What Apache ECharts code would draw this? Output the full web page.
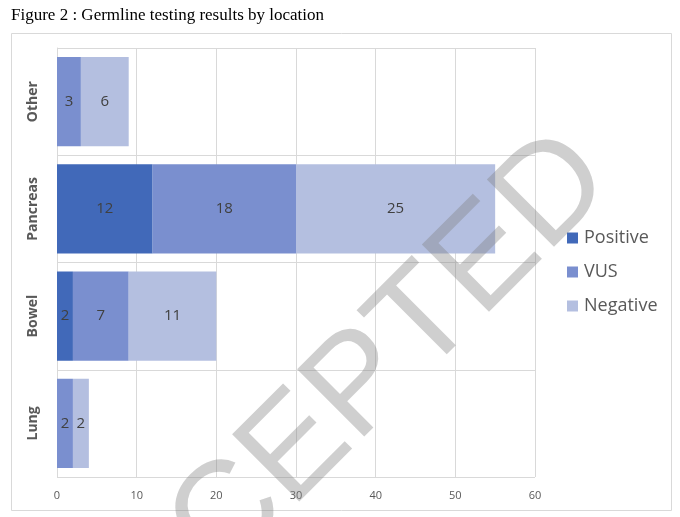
<!DOCTYPE html>
<html>
<head>
<meta charset="utf-8">
<script src="https://cdn.jsdelivr.net/npm/echarts@6/dist/echarts.min.js"></script>
<style>
  html, body { margin: 0; padding: 0; background: #fff; }
  #chart { width: 680px; height: 517px; }
</style>
</head>
<body>
<div id="chart"></div>
<script>
// data
var locations = ["Lung", "Bowel", "Pancreas", "Other"];
var positive = [0, 2, 12, 0];
var vus = [2, 7, 18, 3];
var negative = [2, 11, 25, 6];
var xTicks = [0, 10, 20, 30, 40, 50, 60];

var labelFont = "'Open Sans', 'Noto Sans', sans-serif";

function barLabel() {
  return {
    show: true,
    position: "inside",
    color: "#404040",
    fontSize: 15,
    fontFamily: labelFont,
    formatter: function (p) {
      return p.value ? String(p.value) : "";
    },
  };
}

var chart = echarts.init(document.getElementById("chart"));
var option = {
  backgroundColor: "#fff",
  animation: false,
  title: {
    text: "Figure 2 : Germline testing results by location",
    left: 6,
    top: 2,
    textStyle: {
      fontFamily: "'Liberation Serif', 'Times New Roman', serif",
      fontWeight: "normal",
      fontSize: 17,
      color: "#000",
    },
  },
  legend: {
    orient: "vertical",
    left: 562,
    top: 224,
    itemWidth: 11,
    itemHeight: 11,
    itemGap: 16,
    icon: "rect",
    data: ["Positive", "VUS", "Negative"],
    textStyle: {
      fontFamily: labelFont,
      fontSize: 18,
      color: "#595959",
      padding: [0, 0, 0, 1],
    },
  },
  grid: {
    left: 57,
    right: 145,
    top: 48,
    bottom: 40,
  },
  xAxis: {
    type: "value",
    min: xTicks[0],
    max: xTicks[xTicks.length - 1],
    interval: 10,
    axisLine: { show: false },
    axisTick: { show: false },
    axisLabel: {
      color: "#595959",
      fontSize: 11,
      fontFamily: labelFont,
      margin: 13,
    },
    splitLine: { lineStyle: { color: "#d9d9d9", width: 1 } },
  },
  yAxis: {
    type: "category",
    data: locations,
    axisLine: { show: true, lineStyle: { color: "#d9d9d9" } },
    axisTick: { show: false },
    splitLine: { show: true, lineStyle: { color: "#d9d9d9", width: 1 } },
    axisLabel: {
      rotate: 90,
      color: "#595959",
      fontSize: 14,
      fontWeight: "bold",
      fontFamily: labelFont,
      margin: 17,
    },
  },
  series: [
    {
      name: "Positive",
      type: "bar",
      stack: "total",
      barCategoryGap: "17%",
      itemStyle: { color: "#4169b9" },
      label: barLabel(),
      data: positive,
    },
    {
      name: "VUS",
      type: "bar",
      stack: "total",
      itemStyle: { color: "#7a8fcf" },
      label: barLabel(),
      data: vus,
    },
    {
      name: "Negative",
      type: "bar",
      stack: "total",
      itemStyle: { color: "#b4bfe0" },
      label: barLabel(),
      data: negative,
    },
  ],
  graphic: [
    {
      type: "rect",
      shape: { x: 11.5, y: 33.5, width: 660, height: 477 },
      style: { fill: "none", stroke: "#d9d9d9", lineWidth: 1 },
      silent: true,
      z: 1,
    },
    {
      // diagonal watermark over the figure
      type: "text",
      x: 324,
      y: 423,
      rotation: Math.PI / 4,
      silent: true,
      z: 100,
      style: {
        text: "ACCEPTED",
        x: 0,
        y: 0,
        align: "center",
        verticalAlign: "middle",
        fontFamily: "'Liberation Sans', Arial, sans-serif",
        fontSize: 138,
        fill: "rgba(128,128,128,0.38)",
      },
    },
  ],
};
chart.setOption(option);
</script>
</body>
</html>
